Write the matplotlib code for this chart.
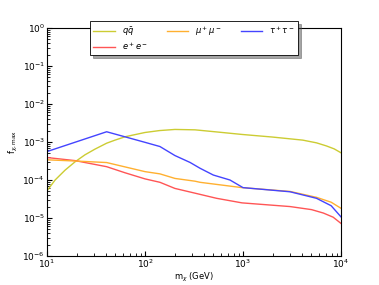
import numpy as np
import matplotlib
matplotlib.use("Agg")
import matplotlib.pyplot as plt

# Data
x_qq = [10, 12.1, 15.3, 19.3, 24.4, 30.9, 40.6, 49.4, 63.1, 100, 141, 202, 324, 562, 977, 1995, 4074, 5623, 7079, 8511, 10000]
y_qq = [5.2e-5, 1.0e-4, 1.82e-4, 3.0e-4, 4.6e-4, 6.5e-4, 9.3e-4, 1.12e-3, 1.38e-3, 1.78e-3, 2.0e-3, 2.14e-3, 2.09e-3, 1.82e-3, 1.58e-3, 1.35e-3, 1.12e-3, 9.5e-4, 7.9e-4, 6.6e-4, 5.2e-4]

x_ee = [10, 19.3, 40.6, 62.5, 100, 142, 202, 324, 537, 977, 3020, 5012, 6607, 8318, 10000]
y_ee = [3.9e-4, 3.24e-4, 2.24e-4, 1.55e-4, 1.07e-4, 8.7e-5, 6.0e-5, 4.5e-5, 3.3e-5, 2.5e-5, 2.0e-5, 1.66e-5, 1.35e-5, 1.05e-5, 7.2e-6]

x_mm = [10, 19.3, 40.6, 100, 142, 202, 324, 364, 977, 3020, 5623, 7943, 10000]
y_mm = [3.4e-4, 3.16e-4, 2.88e-4, 1.66e-4, 1.45e-4, 1.1e-4, 9.3e-5, 8.7e-5, 6.3e-5, 5.0e-5, 3.5e-5, 2.6e-5, 1.8e-5]

x_tt = [10, 40.6, 100, 142, 202, 288, 364, 498, 736, 1000, 3020, 5623, 7943, 10000]
y_tt = [5.6e-4, 1.86e-3, 9.8e-4, 7.6e-4, 4.4e-4, 2.9e-4, 2.04e-4, 1.35e-4, 1.0e-4, 6.3e-5, 4.9e-5, 3.3e-5, 2.1e-5, 1.07e-5]

labels = [r'$q\bar{q}$', r'$e^+e^-$', r'$\mu^+\mu^-$', r'$\tau^+\tau^-$']
colors = ['#cccc33', '#ff5555', '#ffb030', '#4444ff']

fig = plt.figure(figsize=(3.79, 2.85), dpi=100)
ax = fig.add_axes([47/379, 1 - 256/285, (341-47)/379, (256-28)/285])

for xs, ys, lab, c in zip([x_qq, x_ee, x_mm, x_tt], [y_qq, y_ee, y_mm, y_tt], labels, colors):
    ax.plot(xs, ys, color=c, lw=1.0, label=lab)

ax.set_xscale('log')
ax.set_yscale('log')
ax.set_xlim(10, 1e4)
ax.set_ylim(1e-6, 1)
ax.tick_params(labelsize=6.5, which='both', direction='in', pad=1.5)
ax.tick_params(which='major', length=3.5)
ax.tick_params(which='minor', length=2)
for s in ax.spines.values():
    s.set_linewidth(0.8)
ax.set_xlabel(r'm$_\chi$ (GeV)', fontsize=6, labelpad=0)
ax.set_ylabel(r'f$_{\chi,\rm max}$', fontsize=6, labelpad=2)

leg = ax.legend(loc='upper center', bbox_to_anchor=(0.5, 1.05), ncol=3, fontsize=6,
                fancybox=False, shadow=True, frameon=True, framealpha=1,
                handlelength=2.6, columnspacing=2.3, borderpad=0.4, labelspacing=0.25)
leg.get_frame().set_edgecolor('black')
leg.get_frame().set_linewidth(0.6)

fig.savefig('out.png', dpi=100)
